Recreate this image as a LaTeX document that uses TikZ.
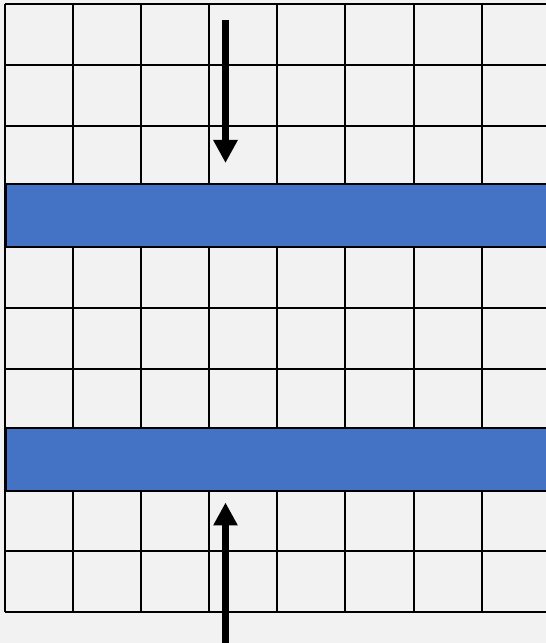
\documentclass[tikz,border=0pt]{standalone}
\usetikzlibrary{arrows.meta,positioning,calc}
\definecolor{gridGray}{RGB}{242,242,242}
\definecolor{barBlue}{RGB}{68,114,196}

\begin{document}
\begin{tikzpicture}[
  x=1pt, y=1pt,
  gridline/.style={line width=2pt,black},
  barrier/.style={
    draw,
    line width=2.5pt,
    fill=barBlue,
    minimum width=560pt,
    minimum height=63pt,
    anchor=north west,
    inner sep=0pt
  },
  flow/.style={-{Triangle[width=23pt,length=23pt]},line width=7.5pt}
]
  \useasboundingbox (0,0) rectangle (546,643);
  \fill[gridGray] (0,0) rectangle (546,643);
  % grid of cells
  \foreach \i in {0,...,8}
    \draw[gridline] (4.9+68.1*\i,31) -- (4.9+68.1*\i,639);
  \foreach \j in {0,...,10}
    \draw[gridline] (4.9,31+60.8*\j) -- (560,31+60.8*\j);
  \node[barrier] (upperbar) at (4.9,460) {};
  \node[barrier] (lowerbar) at (4.9,216) {};
  \coordinate (inflow) at (225.5,623);
  \coordinate (outflow) at (225.5,-10);
  \draw[flow,shorten >=20pt] (inflow) -- (inflow |- upperbar.north);
  \draw[flow,shorten >=10pt] (outflow) -- (outflow |- lowerbar.south);
\end{tikzpicture}
\end{document}
